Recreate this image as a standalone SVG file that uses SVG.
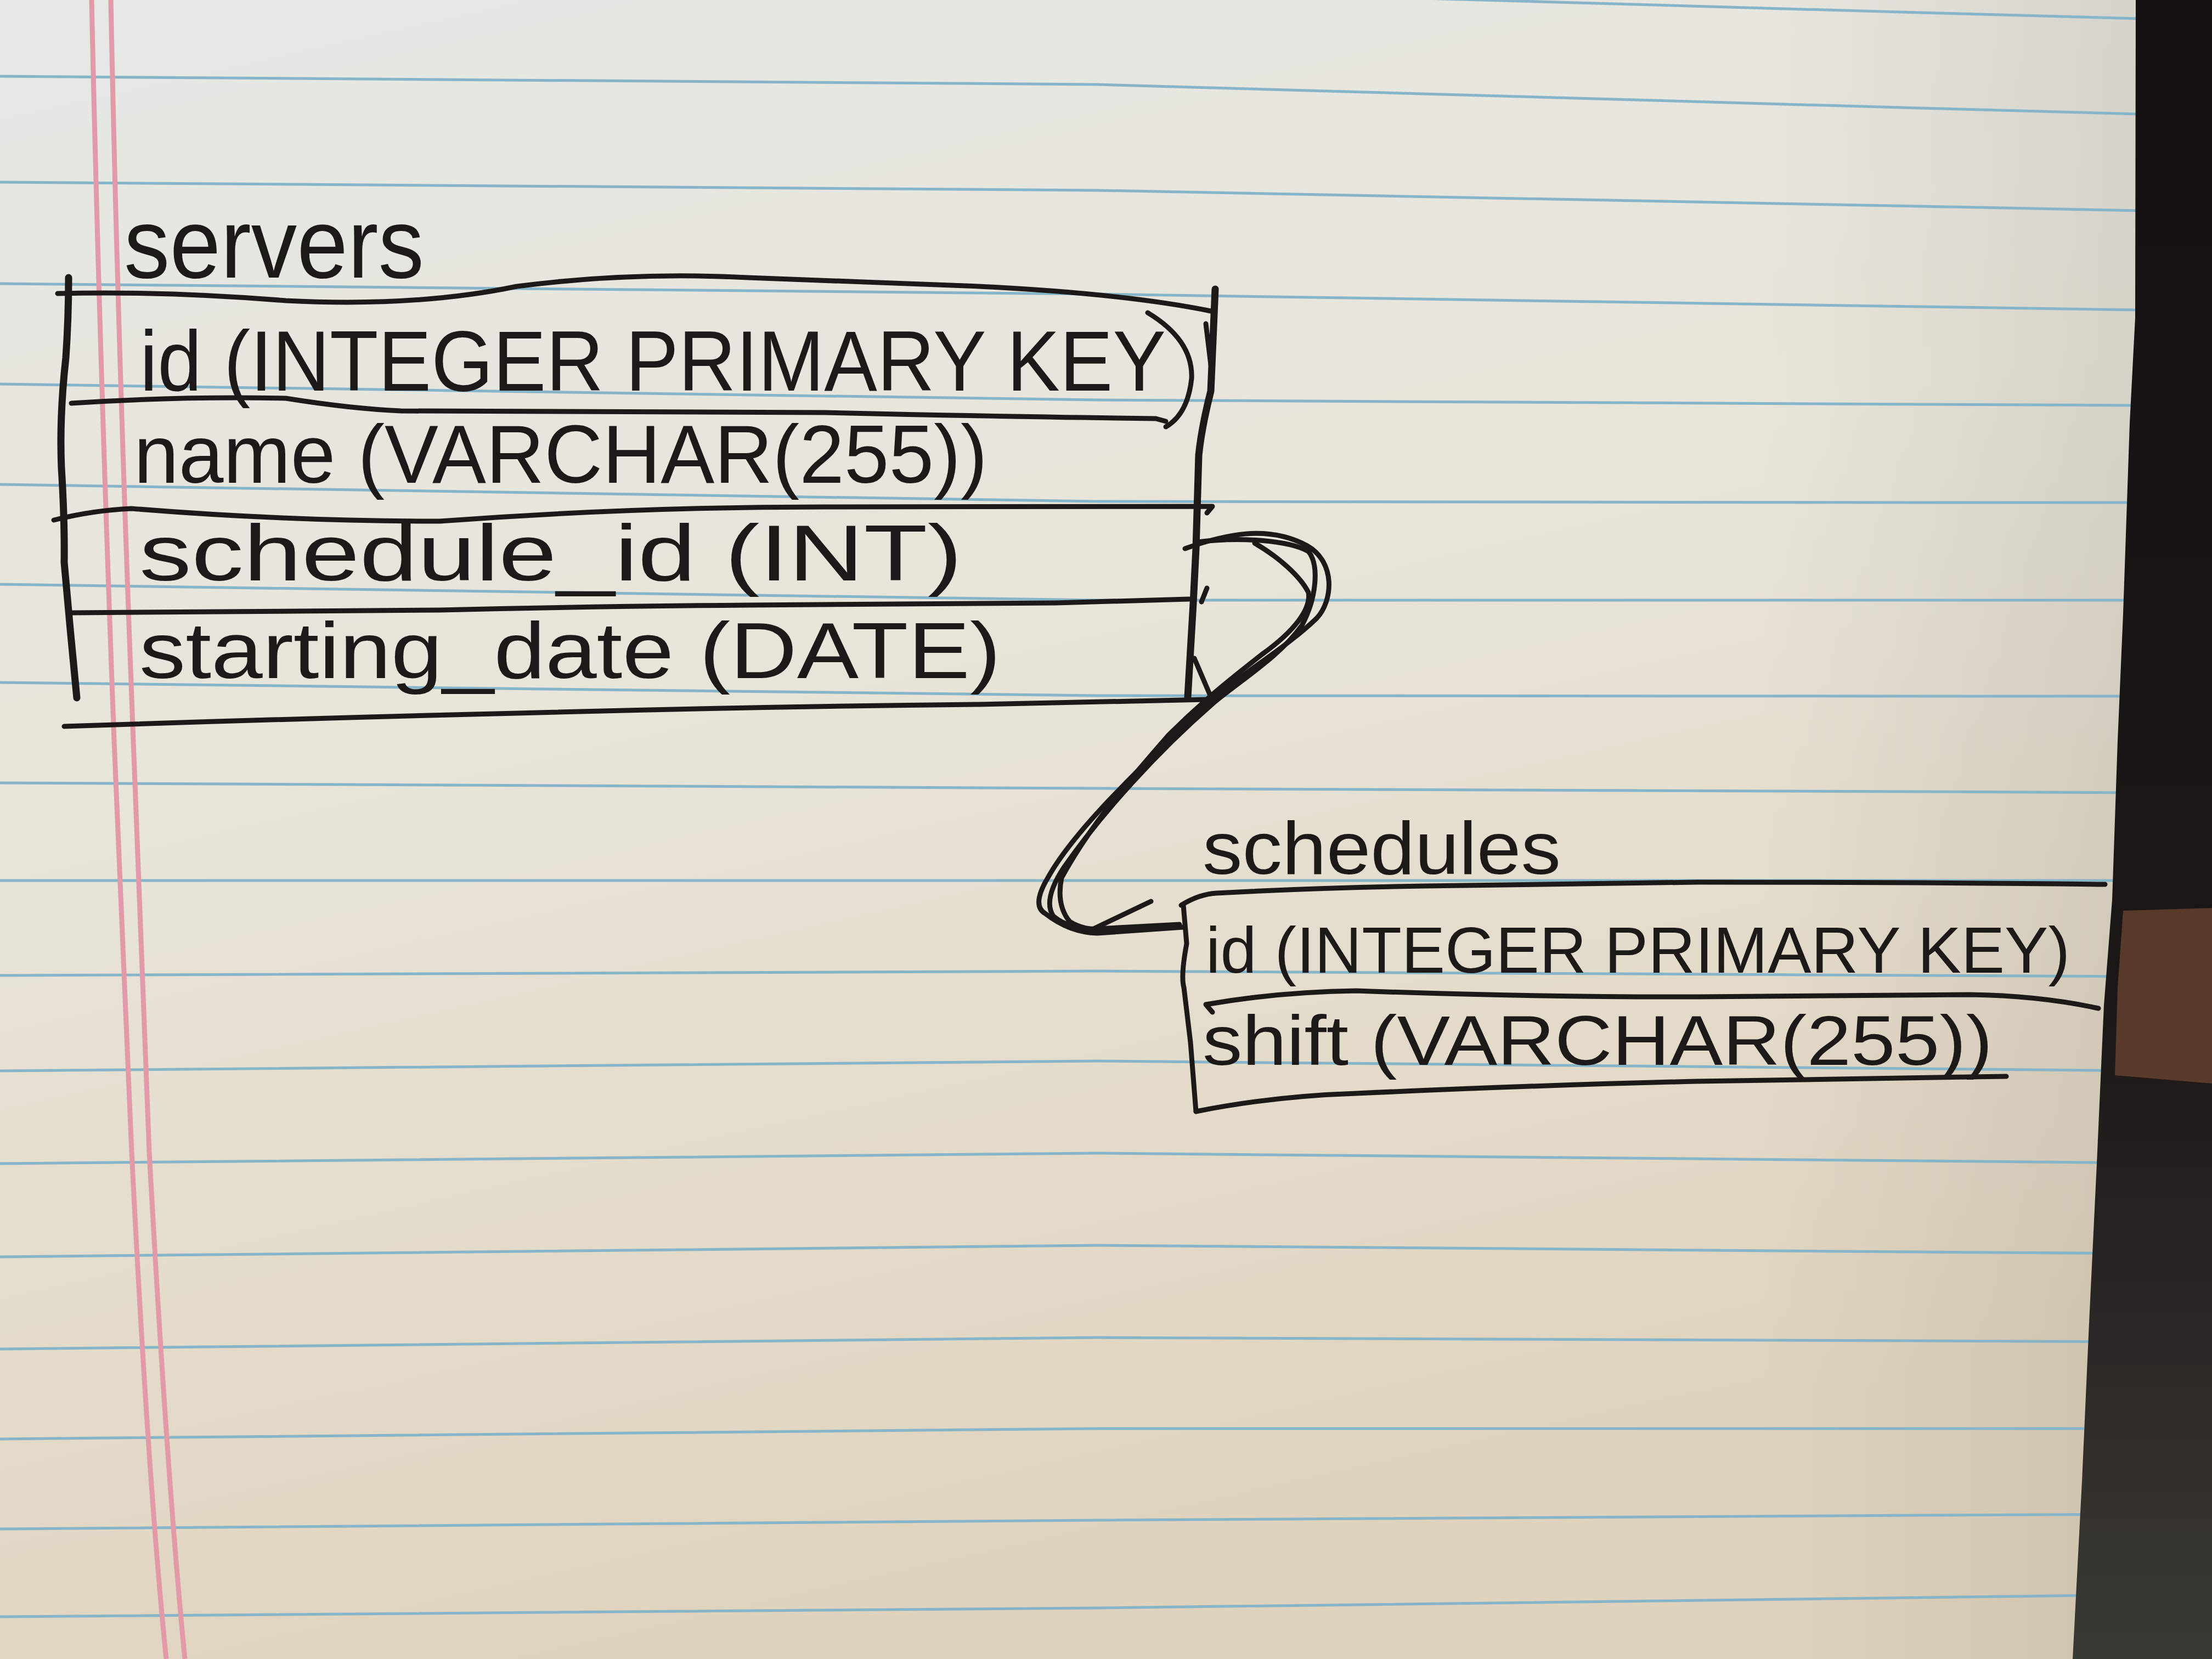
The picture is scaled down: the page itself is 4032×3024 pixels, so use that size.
<svg xmlns="http://www.w3.org/2000/svg" width="4032" height="3024" viewBox="0 0 4032 3024">
<defs>
<linearGradient id="paper" x1="0" y1="0" x2="0.3" y2="1">
<stop offset="0" stop-color="#e5e8e4"/>
<stop offset="0.45" stop-color="#e8e5da"/>
<stop offset="1" stop-color="#e0d3bd"/>
</linearGradient>
<linearGradient id="edge" x1="0" y1="0" x2="1" y2="0">
<stop offset="0" stop-color="#000" stop-opacity="0"/>
<stop offset="1" stop-color="#000" stop-opacity="0.08"/>
</linearGradient>
<linearGradient id="dark" x1="0" y1="0" x2="0" y2="1">
<stop offset="0" stop-color="#141212"/>
<stop offset="0.6" stop-color="#1a1716"/>
<stop offset="0.8" stop-color="#2a2824"/>
<stop offset="1" stop-color="#3a3a34"/>
</linearGradient>
<style>
.blue{fill:none;stroke:#86b4c9;stroke-width:5}
.red{fill:none;stroke:#e39aa8;stroke-width:9}
.ink{fill:none;stroke:#1d1919;stroke-width:9;stroke-linecap:round;stroke-linejoin:round}
.thick{stroke-width:13}
.t{font-family:"Liberation Sans",Arial,sans-serif;fill:#1d1919}
</style>
</defs>

<!-- paper -->
<rect x="0" y="0" width="4032" height="3024" fill="url(#paper)"/>
<rect x="3200" y="0" width="700" height="3024" fill="url(#edge)"/>

<!-- ruled lines -->
<g id="ruling">
<path class="blue" d="M0,-60 L2000,-20 L3500,23 L3900,34"/>
<path class="blue" d="M0,139 L2000,154 L3500,197 L3900,208"/>
<path class="blue" d="M0,332 L2000,347 L3500,376 L3900,384"/>
<path class="blue" d="M0,517 L2000,536 L3500,559 L3900,565"/>
<path class="blue" d="M0,700 L2000,729 L3500,737 L3900,739"/>
<path class="blue" d="M0,883 L2000,914 L3500,916 L3900,916"/>
<path class="blue" d="M0,1065 L2000,1094 L3500,1094 L3900,1094"/>
<path class="blue" d="M0,1244 L2000,1268 L3500,1269 L3900,1269"/>
<path class="blue" d="M0,1427 L2000,1437 L3500,1443 L3900,1445"/>
<path class="blue" d="M0,1605 L2000,1605 L3500,1605 L3900,1605"/>
<path class="blue" d="M0,1778 L2000,1770 L3500,1778 L3900,1780"/>
<path class="blue" d="M0,1952 L2000,1934 L3500,1948 L3900,1952"/>
<path class="blue" d="M0,2121 L2000,2102 L3500,2116 L3900,2120"/>
<path class="blue" d="M0,2291 L2000,2270 L3500,2282 L3900,2285"/>
<path class="blue" d="M0,2459 L2000,2438 L3500,2444 L3900,2446"/>
<path class="blue" d="M0,2623 L2000,2604 L3500,2604 L3900,2604"/>
<path class="blue" d="M0,2787 L2000,2771 L3500,2762 L3900,2760"/>
<path class="blue" d="M0,2947 L2000,2931 L3500,2912 L3900,2907"/>
<path class="red" d="M167,0 Q180,600 208,1350 Q225,1750 240,2100 Q270,2700 303,3024"/>
<path class="red" d="M202,0 Q214,600 243,1350 Q258,1750 272,2100 Q305,2700 337,3024"/>
</g>

<!-- background beyond the paper edge -->
<path d="M3893,0 L3892,579 L3882,771 L3870,1119 L3860,1350 L3850,1640 L3835,1832 L3822,2121 L3808,2411 L3795,2700 L3778,3024 L4032,3024 L4032,0 Z" fill="url(#dark)"/>
<path d="M3870,1660 L3860,1800 L3855,1960 L4032,1975 L4032,1655 Z" fill="#6e4532" opacity="0.75"/>

<!-- servers table -->
<g id="servers">
<text class="t" x="226" y="506" font-size="180" textLength="547" lengthAdjust="spacingAndGlyphs">servers</text>
<path class="ink" d="M105,535 Q300,530 521,548 Q760,560 942,522 Q1150,495 1363,506 Q1600,515 1784,522 Q2050,535 2207,567"/>
<path class="ink thick" d="M125,506 Q125,580 120,652 Q108,760 112,853 Q118,950 117,1025 Q128,1150 140,1272"/>
<path class="ink thick" d="M2215,527 L2207,713 Q2190,780 2185,830 L2180,1000 L2175,1100 L2165,1270"/>
<path class="ink" d="M2198,590 L2207,665"/>
<path class="ink" d="M130,735 Q330,722 521,726 Q640,745 731,749 L1503,752 Q1850,760 2107,763 L2125,768"/>
<path class="ink" d="M98,948 Q170,930 240,927 Q520,950 802,950 Q1150,924 1503,924 L2210,923 L2200,935"/>
<path class="ink" d="M132,1117 Q480,1115 802,1112 Q1100,1105 1363,1103 L1924,1099 L2167,1092"/>
<path class="ink" d="M117,1324 Q530,1310 942,1300 Q1380,1288 1784,1284 L2200,1275"/>
<text class="t" x="255" y="712" font-size="155" textLength="1870" lengthAdjust="spacingAndGlyphs">id (INTEGER PRIMARY KEY</text>
<path class="ink" d="M2092,570 Q2175,620 2172,690 Q2165,755 2125,778"/>
<text class="t" x="244" y="880" font-size="150" textLength="1556" lengthAdjust="spacingAndGlyphs">name (VARCHAR(255))</text>
<text class="t" x="254" y="1058" font-size="145" textLength="1500" lengthAdjust="spacingAndGlyphs">schedule_id (INT)</text>
<text class="t" x="254" y="1236" font-size="145" textLength="1570" lengthAdjust="spacingAndGlyphs">starting_date (DATE)</text>
</g>

<!-- schedules table -->
<g id="schedules">
<text class="t" x="2192" y="1593" font-size="135" textLength="653" lengthAdjust="spacingAndGlyphs">schedules</text>
<path class="ink" d="M2153,1650 Q2185,1630 2217,1628 Q2400,1618 2596,1615 L3094,1608 Q3500,1608 3837,1612"/>
<path class="ink" d="M2157,1650 L2163,1720 Q2152,1780 2158,1800 Q2165,1860 2170,1900 L2180,2026"/>
<path class="ink" d="M2210,1845 L2198,1831 Q2330,1808 2472,1806 Q2800,1818 3094,1817 L3591,1813 Q3720,1815 3825,1838"/>
<path class="ink" d="M2180,2026 Q2320,1998 2472,1993 Q2800,1978 3094,1971 L3657,1962"/>
<text class="t" x="2198" y="1773" font-size="118" textLength="1575" lengthAdjust="spacingAndGlyphs">id (INTEGER PRIMARY KEY)</text>
<text class="t" x="2192" y="1941" font-size="128" textLength="1440" lengthAdjust="spacingAndGlyphs">shift (VARCHAR(255))</text>
</g>

<!-- connectors -->
<g id="connectors">
<path class="ink" d="M2160,1000 C2230,975 2310,955 2383,995 C2435,1025 2430,1095 2400,1127 C2340,1185 2250,1235 2180,1300 C2080,1400 1960,1510 1910,1600 Q1880,1650 1905,1665 Q1950,1700 2000,1701 L2157,1690"/>
<path class="ink" d="M2183,988 C2260,978 2350,985 2385,1005 C2405,1030 2400,1090 2373,1140 C2330,1200 2260,1240 2210,1283 C2110,1370 2010,1480 1940,1580 Q1900,1640 1920,1670 Q1950,1695 2000,1693 L2150,1685"/>
<path class="ink" d="M2287,990 C2330,1015 2370,1050 2385,1080 C2390,1110 2360,1150 2300,1193 C2240,1240 2190,1280 2130,1340 C2060,1420 1990,1500 1935,1600 Q1925,1650 1950,1680 Q1975,1695 2010,1695"/>
<path class="ink" d="M1985,1697 L2098,1643"/>
<path class="ink" d="M2177,1200 L2210,1277"/>
<path class="ink" d="M2200,1072 L2190,1097"/>
</g>
</svg>
